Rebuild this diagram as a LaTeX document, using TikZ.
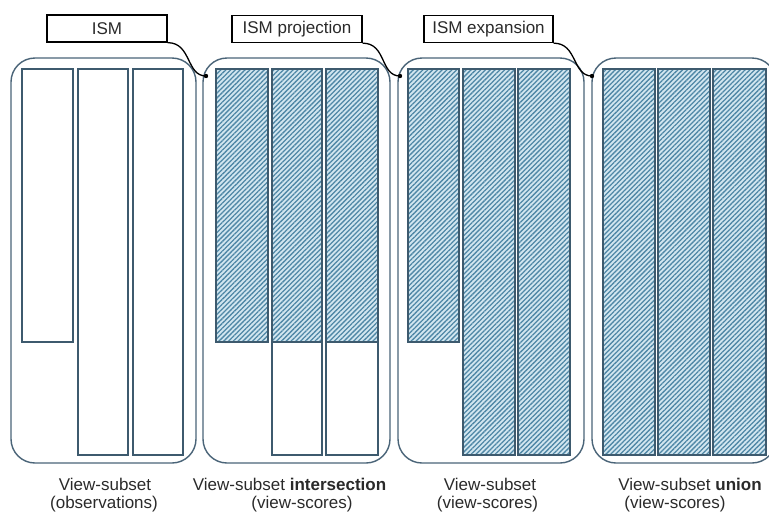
\documentclass[tikz,border=0pt]{standalone}
\usepackage{fontspec}
\setmainfont{Liberation Sans}
\usetikzlibrary{patterns.meta}
\definecolor{frame}{HTML}{4A6478}
\definecolor{colb}{HTML}{3D5A6E}
\definecolor{hatchbg}{HTML}{D2E6F0}
\definecolor{hatchln}{HTML}{4F87A6}
\definecolor{txt}{HTML}{2A2A2A}
\tikzset{
  panel/.style={draw=frame, line width=1.4pt, rounded corners=24pt},
  col/.style={draw=colb, line width=1.3pt},
  hatched/.style={preaction={fill=hatchbg},
    preaction={pattern={Lines[angle=45,distance=3.4pt,line width=1.3pt]}, pattern color=hatchln},
    col},
  labelbox/.style={draw=black, line width=1.3pt, fill=white, minimum height=27pt,
    inner sep=0pt, font=\fontsize{17}{20}\selectfont, text=txt},
  caption/.style={anchor=base, inner sep=0pt, font=\fontsize{17}{20}\selectfont, text=txt},
  link/.style={draw=black, line width=1.3pt},
  linkdot/.style={fill=black}
}
\begin{document}
\begin{tikzpicture}[x=1pt, y=-1pt]
\useasboundingbox (0,0) rectangle (769,512);
\clip (0,0) rectangle (769,512);

% panel frames
\draw[panel] (11,58) rectangle (196,463);
\draw[panel] (203,58) rectangle (390,463);
\draw[panel] (398,58) rectangle (584,463);
\draw[panel] (592,58) rectangle (776,463);

% panel 1 columns (observations)
\draw[col] (22,69) rectangle (73,342);
\draw[col] (78,69) rectangle (128,455);
\draw[col] (133,69) rectangle (183,455);

% panel 2 columns (intersection)
\draw[hatched] (216,69) rectangle (268,342);
\draw[col] (272,342) rectangle (322,455);
\draw[hatched] (272,69) rectangle (322,342);
\draw[col] (326,342) rectangle (378,455);
\draw[hatched] (326,69) rectangle (378,342);

% panel 3 columns (expansion)
\draw[hatched] (408,69) rectangle (459,342);
\draw[hatched] (463,69) rectangle (515,455);
\draw[hatched] (518,69) rectangle (570,455);

% panel 4 columns (union)
\draw[hatched] (603,69) rectangle (655,455);
\draw[hatched] (658,69) rectangle (710,455);
\draw[hatched] (713,69) rectangle (766,455);

% label boxes
\node[labelbox, minimum width=120pt] (ism) at (107,28.5) {ISM};
\node[labelbox, minimum width=130pt] (proj) at (297,29) {ISM projection};
\node[labelbox, minimum width=129pt] (expa) at (488.5,29) {ISM expansion};

% connector ends
\coordinate (e1) at (206,76);
\coordinate (e2) at (400,76);
\coordinate (e3) at (592,76);

\draw[link] (ism.south east) .. controls +(24,0) and +(-20,0) .. (e1);
\draw[link] (proj.south east) .. controls +(24,0) and +(-20,0) .. (e2);
\draw[link] (expa.south east) .. controls +(24,0) and +(-20,0) .. (e3);
\fill[linkdot] (e1) circle (2.2pt);
\fill[linkdot] (e2) circle (2.2pt);
\fill[linkdot] (e3) circle (2.2pt);

% captions
\node[caption] (c1a) at (105,490) {View-subset};
\node[caption] (c1b) at (104,508) {(observations)};
\node[caption] (c2a) at (289.5,490) {View-subset \textbf{intersection}};
\node[caption] (c2b) at (302,508) {(view-scores)};
\node[caption] (c3a) at (490,490) {View-subset};
\node[caption] (c3b) at (487.5,508) {(view-scores)};
\node[caption] (c4a) at (690,490) {View-subset \textbf{union}};
\node[caption] (c4b) at (675,508) {(view-scores)};
\end{tikzpicture}
\end{document}
